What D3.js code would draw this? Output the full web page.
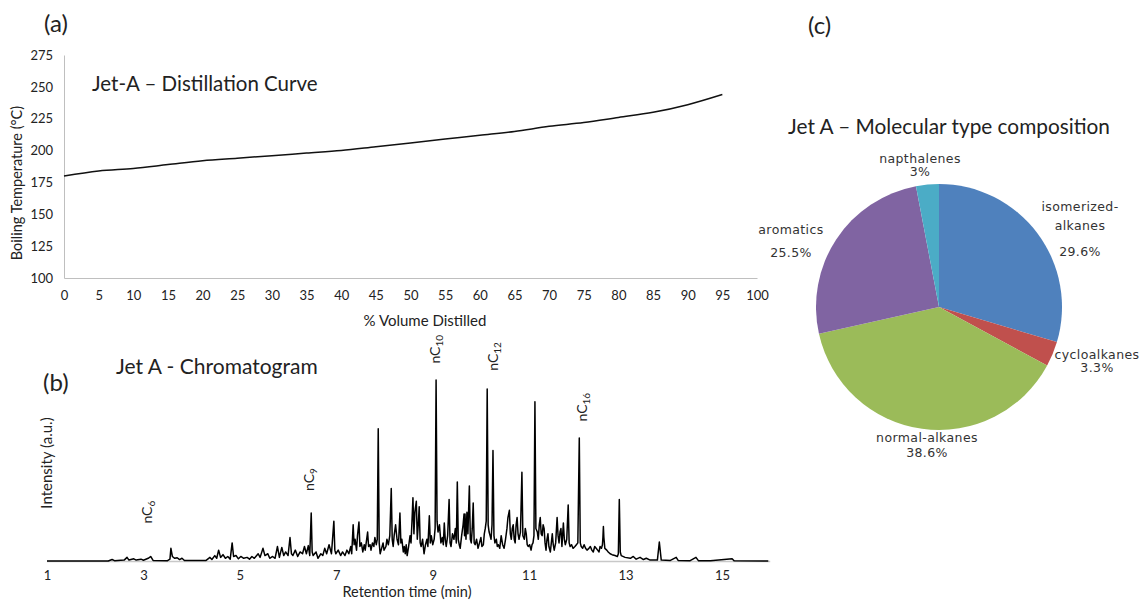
<!DOCTYPE html>
<html>
<head>
<meta charset="utf-8">
<script src="https://cdn.jsdelivr.net/npm/d3@7"></script>
<style>
  body { margin: 0; background: #fff; }
  svg { display: block; }
  text { font-family: Lato, "Liberation Sans", sans-serif; fill: #222; }
  .pielab { font-family: "DejaVu Sans", sans-serif; font-size: 12.5px; letter-spacing: 0.4px; fill: #333; }
</style>
</head>
<body>
<svg id="chart" width="1141" height="601"></svg>
<script>
// ---------- Panel (a): distillation curve ----------
const distVolume = [0,5,10,15,20,25,30,35,40,45,50,55,60,65,70,75,80,85,90,95];
const distTemp   = [180,184,186,189,192,194,196,198,200,203,206,209,212,215,219,222,226,230,236,244];
const distXTicks = d3.range(0, 101, 5);
const distYTicks = [100,125,150,175,200,225,250,275];

// ---------- Panel (b): chromatogram trace [retention time (min), intensity (a.u.)] ----------
const chromTrace = [
 [1.00,0],[2.27,0],[2.35,0.8],[2.40,0.2],[2.60,0.5],[2.66,2],[2.70,0.5],[2.80,1.2],[2.85,0.5],[2.95,1],[3.00,0.4],[3.10,1.5],[3.15,2.5],[3.20,0.3],[3.50,0.2],
 [3.55,1],[3.57,7],[3.60,2.5],[3.65,1.5],[3.70,1.8],[3.75,0.8],[3.80,1.5],[3.85,0.3],[4.30,0.3],
 [4.38,2],[4.42,0.8],[4.48,3],[4.52,1.5],[4.56,6],[4.60,2],[4.65,3.5],[4.70,1.5],[4.75,2.5],[4.80,1],[4.84,10],[4.87,2.5],[4.92,3],[4.97,1.2],
 [5.02,2.5],[5.08,1.5],[5.15,2],[5.20,1],[5.25,2.5],[5.30,1.5],[5.38,4],[5.42,2],[5.48,7],[5.52,3],[5.58,4],[5.62,1.5],[5.68,2.5],[5.73,1.5],
 [5.78,8],[5.82,2],[5.87,7.5],[5.91,3],[5.95,5],[6.00,3],[6.04,13],[6.07,4],[6.10,3],[6.15,6],[6.20,2.5],[6.25,5],[6.30,4],[6.34,8],[6.38,4],[6.42,8.5],[6.45,3],
 [6.48,26.5],[6.50,5],[6.52,3],[6.58,5],[6.62,1.5],[6.68,4],[6.72,3],[6.76,7],[6.80,4],[6.85,9],[6.90,4],[6.95,22],[6.97,6],[6.99,4],
 [7.04,6],[7.09,3],[7.13,5],[7.18,3],[7.22,6],[7.26,4],[7.30,8],[7.32,4],
 [7.35,20],[7.37,9],[7.39,12],[7.42,6],[7.44,14],[7.47,21.5],[7.49,8],[7.52,10],[7.55,5],[7.58,9],[7.60,6],[7.63,12],[7.65,16],[7.67,8],
 [7.70,9],[7.72,6],[7.75,10],[7.78,8],[7.80,13],[7.83,9],[7.85,12],[7.87,73],[7.89,10],[7.91,4],[7.94,7],[7.97,10],[7.99,6],
 [8.03,8],[8.05,12],[8.08,9],[8.11,14],[8.14,40],[8.16,12],[8.18,8],[8.20,14],[8.23,20],[8.26,12],[8.29,9],[8.32,26.5],[8.34,10],[8.36,12],
 [8.39,5],[8.41,8],[8.43,4],[8.45,9],[8.47,3],[8.50,8],[8.53,14],[8.55,10],[8.57,22],[8.59,35],[8.61,15],[8.63,27],[8.66,33],[8.68,12],
 [8.70,20],[8.72,30],[8.74,10],[8.76,8],[8.79,12],[8.82,4],[8.85,9],[8.88,12],[8.90,8],[8.93,25],[8.95,10],[8.97,14],
 [9.00,9],[9.03,12],[9.05,18],[9.07,100],[9.09,22],[9.11,16],[9.14,20],[9.17,10],[9.20,13],[9.22,9],[9.24,21],[9.26,12],[9.28,8],
 [9.31,14],[9.34,34],[9.36,10],[9.38,8],[9.41,15],[9.44,12],[9.47,18],[9.49,10],[9.51,43.6],[9.53,12],[9.55,9],[9.57,7],
 [9.60,14],[9.63,20],[9.65,26],[9.66,14],[9.67,26],[9.69,12],[9.71,27],[9.73,15],[9.76,41.5],[9.78,12],[9.80,10],[9.82,18],[9.84,32],
 [9.86,10],[9.88,9],[9.91,12],[9.94,7],[9.97,10],[10.00,13],[10.02,8],[10.05,9],[10.07,15],[10.09,18],[10.11,22],[10.13,95],[10.15,20],
 [10.17,16],[10.19,14],[10.21,12],[10.23,20],[10.25,61],[10.27,14],[10.29,10],[10.32,12],[10.34,8],[10.36,9],[10.39,7],[10.42,14],
 [10.45,9],[10.48,7],[10.51,12],[10.54,18],[10.56,24],[10.59,28],[10.61,15],[10.63,12],[10.65,18],[10.67,20],[10.69,12],[10.71,10],
 [10.73,20],[10.75,24],[10.77,15],[10.79,12],[10.82,16],[10.85,49],[10.87,14],[10.90,12],[10.92,18],[10.94,15],[10.96,9],[10.98,8],
 [11.01,9],[11.04,6],[11.06,9],[11.08,10],[11.10,14],[11.12,88],[11.14,18],[11.17,16],[11.19,12],[11.21,20],[11.23,24],[11.25,15],
 [11.27,14],[11.29,20],[11.31,18],[11.33,10],[11.35,6],[11.37,12],[11.39,15],[11.41,8],[11.44,5],[11.46,10],[11.48,15],[11.50,9],
 [11.52,6],[11.55,10],[11.58,24],[11.60,14],[11.62,10],[11.64,16],[11.66,18],[11.68,8],[11.71,21],[11.73,12],[11.75,9],[11.78,12],
 [11.81,31],[11.83,10],[11.85,8],[11.88,9],[11.91,7],[11.95,8],[11.98,9],[12.01,10],[12.04,68],[12.06,10],[12.08,8],[12.11,7],
 [12.14,9],[12.17,7],[12.20,6],[12.24,7],[12.27,8],[12.30,6],[12.33,5],[12.36,8],[12.39,7],[12.42,6],[12.45,5],[12.47,8],[12.50,7],
 [12.52,9],[12.53,13],[12.54,19],[12.55,13],[12.57,7],[12.61,6],[12.64,5],[12.68,4],[12.72,3.5],[12.78,3],[12.83,2.5],[12.85,4],[12.87,34],[12.89,5],
 [12.91,3],[12.99,2],[13.10,1.5],[13.16,2.5],[13.22,1],[13.30,2],[13.37,0.8],[13.43,1.5],[13.51,0.5],[13.66,0.5],[13.70,10.5],[13.74,0.5],
 [13.93,0.3],[14.05,2],[14.09,0.3],[14.34,0.2],[14.46,2],[14.51,0.2],[14.76,0.1],[15.21,1.2],[15.25,0.1],[15.96,0]
];
const chromXTicks = [1,3,5,7,9,11,13,15];
const peakNames = ["6","9","10","12","16"];
const peakTimes = [3.10, 6.45, 9.06, 10.27, 12.12];
const peakLabelIntensity = [27, 45, 117, 113, 85];

// ---------- Panel (c): molecular type composition ----------
const pieNames  = ["isomerized-alkanes","cycloalkanes","normal-alkanes","aromatics","napthalenes"];
const pieValues = [29.6, 3.3, 38.6, 25.5, 3];
const pieLabels = ["29.6%","3.3%","38.6%","25.5%","3%"];
const pieColors = ["#4f81bd","#c0504d","#9bbb59","#8064a2","#4bacc6"];

const svg = d3.select("#chart");

// ======== Panel (a) ========
const xa = d3.scaleLinear().domain([0,100]).range([64,757]);
const ya = d3.scaleLinear().domain([100,275]).range([278,55]);

svg.append("text").attr("x",44).attr("y",32).attr("font-size",24).text("(a)");

const gxa = svg.append("g").attr("transform","translate(0,278)")
  .call(d3.axisBottom(xa).tickValues(distXTicks).tickSize(0).tickPadding(13).tickFormat(d3.format("d")));
const gya = svg.append("g").attr("transform","translate(64,0)")
  .call(d3.axisLeft(ya).tickValues(distYTicks).tickSize(0).tickPadding(11));
[gxa, gya].forEach(g => {
  g.select(".domain").attr("stroke","#bfbfbf").attr("stroke-width",1);
  g.selectAll("text").attr("font-family","Lato, sans-serif").attr("font-size",13).attr("fill","#222");
});

svg.append("text").attr("x",425).attr("y",326).attr("text-anchor","middle")
  .attr("font-size",15).text("% Volume Distilled");
svg.append("text").attr("transform","translate(22,183) rotate(-90)").attr("text-anchor","middle")
  .attr("font-size",14.5).text("Boiling Temperature (°C)");
svg.append("text").attr("x",92).attr("y",91).attr("font-size",20.5).text("Jet-A – Distillation Curve");

svg.append("path")
  .datum(distVolume.map((v,i)=>[v,distTemp[i]]))
  .attr("fill","none").attr("stroke","#111").attr("stroke-width",1.5)
  .attr("d", d3.line().x(d=>xa(d[0])).y(d=>ya(d[1])).curve(d3.curveMonotoneX));

// ======== Panel (b) ========
const xb = d3.scaleLinear().domain([1,15]).range([47,722]);
const yb = d3.scaleLinear().domain([0,100]).range([561,380]);

svg.append("text").attr("x",43).attr("y",391).attr("font-size",24).text("(b)");
svg.append("text").attr("x",116).attr("y",374).attr("font-size",21).text("Jet A - Chromatogram");

const gxb = svg.append("g").attr("transform","translate(0,561)")
  .call(d3.axisBottom(xb).tickValues(chromXTicks).tickSize(0).tickPadding(10).tickFormat(d3.format("d")));
gxb.select(".domain").remove();
gxb.selectAll("text").attr("font-family","Lato, sans-serif").attr("font-size",13).attr("fill","#222");
svg.append("line").attr("x1",xb(1)).attr("x2",xb(16)).attr("y1",yb(0)+0.5).attr("y2",yb(0)+0.5)
  .attr("stroke","#c8c8c8").attr("stroke-width",1.5);

svg.append("text").attr("x",407).attr("y",597).attr("text-anchor","middle")
  .attr("font-size",14.5).text("Retention time (min)");
svg.append("text").attr("transform","translate(52,463) rotate(-90)").attr("text-anchor","middle")
  .attr("font-size",15).text("Intensity (a.u.)");

svg.append("path")
  .datum(chromTrace)
  .attr("fill","none").attr("stroke","#000").attr("stroke-width",1.5).attr("stroke-linejoin","round")
  .attr("d", d3.line().x(d=>xb(d[0])).y(d=>yb(d[1])));

peakNames.forEach((n,i) => {
  const t = svg.append("text")
    .attr("transform",`translate(${xb(peakTimes[i])+4},${yb(peakLabelIntensity[i])}) rotate(-90)`)
    .attr("text-anchor","middle").attr("font-size",14);
  t.append("tspan").text("nC");
  t.append("tspan").attr("font-size",10).attr("dy",3).text(n);
});

// ======== Panel (c) ========
const cx = 939, cy = 307, r = 123;
svg.append("text").attr("x",808).attr("y",34).attr("font-size",24).text("(c)");
svg.append("text").attr("x",949).attr("y",134).attr("text-anchor","middle")
  .attr("font-size",20.8).text("Jet A – Molecular type composition");

const pie = d3.pie().sort(null).value(d=>d)(pieValues);
const arc = d3.arc().innerRadius(0).outerRadius(r);
svg.append("g").attr("transform",`translate(${cx},${cy})`)
  .selectAll("path").data(pie).join("path")
  .attr("d",arc).attr("fill",(d,i)=>pieColors[i]);

const labelPos = [
  {x:1080, ys:[211,230,256]},
  {x:1097, ys:[359,372]},
  {x:927,  ys:[442,457]},
  {x:791,  ys:[234,257]},
  {x:920,  ys:[163,176]}
];
labelPos.forEach((s,i) => {
  const lines = i===0 ? ["isomerized-","alkanes",pieLabels[0]] : [pieNames[i], pieLabels[i]];
  lines.forEach((ln,j) => {
    svg.append("text").attr("class","pielab").attr("x",s.x).attr("y",s.ys[j])
      .attr("text-anchor","middle").attr("font-size", j===lines.length-1 ? 11.5 : null).text(ln);
  });
});
</script>
</body>
</html>
